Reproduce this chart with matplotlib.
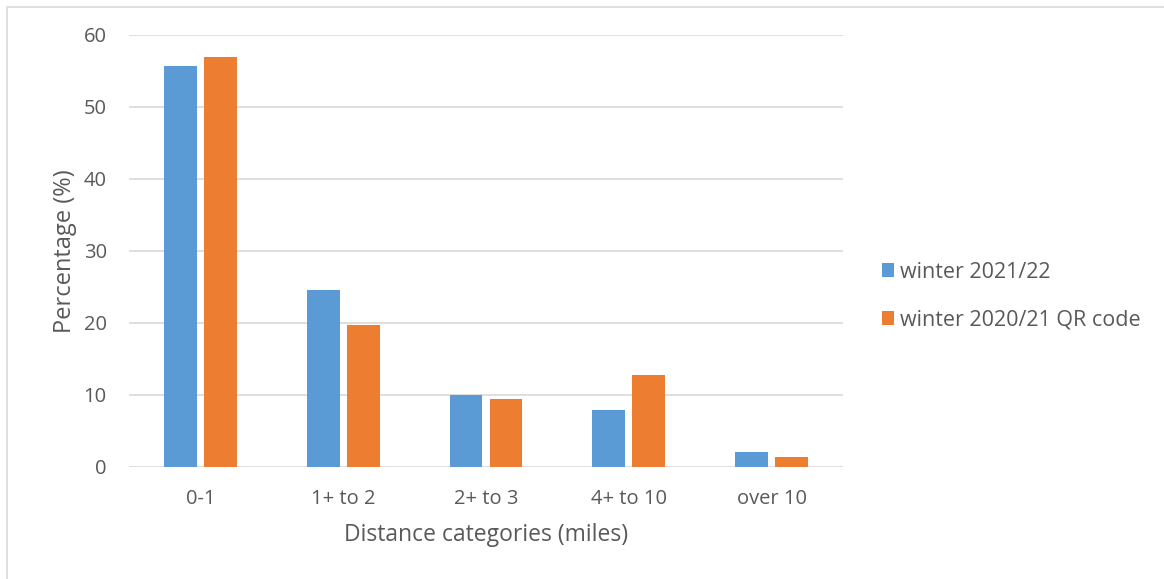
import matplotlib
matplotlib.use("Agg")
import matplotlib.pyplot as plt
import numpy as np
from matplotlib.patches import Rectangle, Patch

categories = ["0-1", "1+ to 2", "2+ to 3", "4+ to 10", "over 10"]
winter_2021_22 = [55.7, 24.5, 10.0, 7.9, 2.0]
winter_2020_21_qr = [57.0, 19.7, 9.4, 12.8, 1.35]
series_labels = ["winter 2021/22", "winter 2020/21 QR code"]
y_ticks = [0, 10, 20, 30, 40, 50, 60]

BLUE = "#5B9BD5"
ORANGE = "#ED7D31"
TEXT = "#595959"
GRID = "#D9D9D9"

plt.rcParams["font.family"] = ["Open Sans", "DejaVu Sans"]

fig = plt.figure(figsize=(11.64, 5.79), dpi=100)
ax = fig.add_axes([129 / 1164, 1 - 466.8 / 579, (843 - 129) / 1164, (466.8 - 35) / 579])

x = np.arange(len(categories))
width = 0.23
offset = 0.14
ax.bar(x - offset, winter_2021_22, width, color=BLUE, zorder=3)
ax.bar(x + offset, winter_2020_21_qr, width, color=ORANGE, zorder=3)

ax.set_xlim(-0.5, len(categories) - 0.5)
ax.set_ylim(0, 60)
ax.set_yticks(y_ticks)
ax.set_xticks(x)
ax.set_xticklabels(categories)
ax.tick_params(axis="both", length=0, colors=TEXT, labelsize=14.5)
ax.tick_params(axis="y", pad=16)
ax.tick_params(axis="x", pad=16)
ax.yaxis.grid(True, color=GRID, linewidth=1.2, zorder=0)
for s in ax.spines.values():
    s.set_visible(False)

ax.set_ylabel("Percentage (%)", color=TEXT, fontsize=17, labelpad=5)
ax.set_xlabel("Distance categories (miles)", color=TEXT, fontsize=16.5, labelpad=10)

handles = [Patch(facecolor=BLUE, edgecolor="none"), Patch(facecolor=ORANGE, edgecolor="none")]
fig.legend(handles, series_labels, loc="center left",
           bbox_to_anchor=(882 / 1164, 1 - 296 / 579), frameon=False,
           fontsize=15.5, labelcolor=TEXT, handlelength=0.55, handleheight=0.6,
           handletextpad=0.3, labelspacing=1.25, borderaxespad=0, borderpad=0)

# light outer frame of the chart area
fig.patches.append(Rectangle((7 / 1164, -0.05), 1.2, 1 - 7 / 579 + 0.05,
                             transform=fig.transFigure, fill=False,
                             edgecolor=GRID, linewidth=1.2))

fig.savefig("out.png", dpi=100)
